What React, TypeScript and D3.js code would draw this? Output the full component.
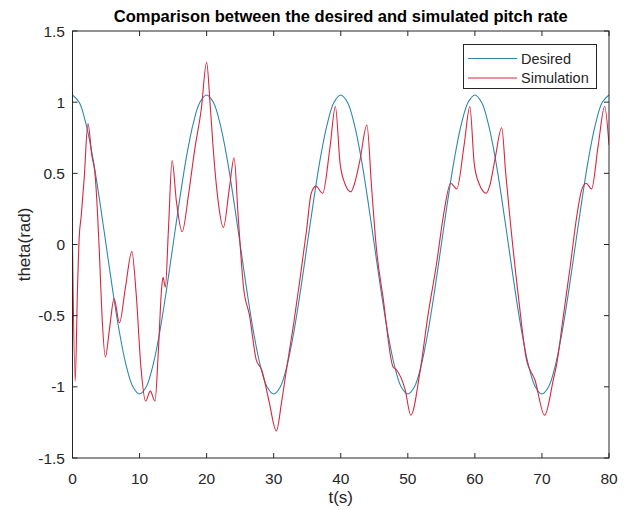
import React from 'react';
import * as d3 from 'd3';

// desired pitch (rad), sampled every 1 s
const desiredTime = d3.range(0, 81);
const desiredValue = [
  1.05, 0.999, 0.849, 0.617, 0.324, 0, -0.324, -0.617, -0.849, -0.999,
  -1.05, -0.999, -0.849, -0.617, -0.324, 0, 0.324, 0.617, 0.849, 0.999,
  1.05, 0.999, 0.849, 0.617, 0.324, 0, -0.324, -0.617, -0.849, -0.999,
  -1.05, -0.999, -0.849, -0.617, -0.324, 0, 0.324, 0.617, 0.849, 0.999,
  1.05, 0.999, 0.849, 0.617, 0.324, 0, -0.324, -0.617, -0.849, -0.999,
  -1.05, -0.999, -0.849, -0.617, -0.324, 0, 0.324, 0.617, 0.849, 0.999,
  1.05, 0.999, 0.849, 0.617, 0.324, 0, -0.324, -0.617, -0.849, -0.999,
  -1.05, -0.999, -0.849, -0.617, -0.324, 0, 0.324, 0.617, 0.849, 0.999,
  1.05,
];

// simulated response
const simTime = [
  0, 0.4, 0.75, 1.0, 1.3, 1.75, 2.3, 2.9, 3.35, 3.7, 4.0, 4.4, 4.9, 5.5, 6.2,
  7.0, 7.9, 8.85, 9.5, 10.2, 10.9, 11.6, 12.3, 12.8, 13.3, 13.5, 13.85, 14.3,
  14.85, 15.5, 16.35, 17.3, 18.2, 19.2, 20.0, 20.5, 21.0, 21.7, 22.5, 23.4,
  24.1, 24.7, 25.5, 26.4, 27.4, 28.2, 29.3, 30.4, 31.2, 31.9, 33.0, 33.9,
  34.9, 35.6, 36.3, 37.3, 38.4, 39.2, 39.9, 40.6, 41.5, 42.0, 42.85, 43.9,
  44.6, 45.3, 46.3, 47.8, 48.3, 49.6, 50.45, 51.8, 53.0, 54.3, 55.3, 56.4,
  57.3, 58.4, 59.25, 59.9, 60.6, 61.7, 62.2, 63.0, 64.0, 64.6, 65.2, 66.5,
  67.7, 68.95, 70.4, 71.7, 72.2, 73.2, 74.2, 75.2, 75.9, 76.6, 77.4, 78.4,
  79.35, 80,
];
const simValue = [
  0, -0.96, -0.3, 0.05, 0.2, 0.47, 0.85, 0.62, 0.5, 0.25, -0.05, -0.5, -0.79,
  -0.6, -0.38, -0.55, -0.3, -0.05, -0.35, -0.86, -1.1, -1.03, -1.1, -0.75,
  -0.3, -0.23, -0.3, 0.1, 0.59, 0.3, 0.09, 0.35, 0.66, 0.95, 1.28, 1.0, 0.66,
  0.31, 0.12, 0.4, 0.61, 0.2, -0.3, -0.5, -0.81, -0.88, -1.1, -1.31, -1.1,
  -0.88, -0.55, -0.25, 0.1, 0.36, 0.41, 0.36, 0.685, 0.97, 0.57, 0.43, 0.37,
  0.42, 0.59, 0.84, 0.4, -0.02, -0.37, -0.86, -0.88, -1.02, -1.2, -0.9, -0.5,
  -0.13, 0.2, 0.43, 0.39, 0.7, 0.97, 0.57, 0.43, 0.36, 0.41, 0.6, 0.82, 0.5,
  0.2, -0.37, -0.81, -0.95, -1.2, -0.95, -0.84, -0.5, -0.16, 0.2, 0.38, 0.43,
  0.39, 0.7, 0.97, 0.7,
];

const xTicks = [0, 10, 20, 30, 40, 50, 60, 70, 80];
const yTicks = [-1.5, -1, -0.5, 0, 0.5, 1, 1.5];

const seriesNames = ['Desired', 'Simulation'];
const seriesColors = ['#2e87ad', '#d8263d'];

export default function App() {
  const width = 627;
  const height = 510;
  const left = 72.5, right = 609, top = 31, bottom = 458;
  const axisColor = '#262626';
  const font = '"Liberation Sans", Arial, sans-serif';

  const x = d3.scaleLinear().domain([0, 80]).range([left, right]);
  const y = d3.scaleLinear().domain([-1.5, 1.5]).range([bottom, top]);

  const desiredLine = d3.line<number>()
    .x((_, i) => x(desiredTime[i]))
    .y(d => y(d))
    .curve(d3.curveCatmullRom);
  const simLine = d3.line<number>()
    .x((_, i) => x(simTime[i]))
    .y(d => y(d))
    .curve(d3.curveMonotoneX);

  const tickLen = 5;

  return (
    <svg width={width} height={height} style={{ position: 'absolute', left: 0, top: 0, background: '#fff' }}>
      <defs>
        <clipPath id="plot-clip">
          <rect x={left} y={top} width={right - left} height={bottom - top} />
        </clipPath>
      </defs>

      <g clipPath="url(#plot-clip)" fill="none" strokeWidth={1.1}>
        <path d={desiredLine(desiredValue) || ''} stroke={seriesColors[0]} />
        <path d={simLine(simValue) || ''} stroke={seriesColors[1]} />
      </g>

      {/* box and ticks */}
      <rect x={left} y={top} width={right - left} height={bottom - top}
        fill="none" stroke={axisColor} strokeWidth={1} />
      {xTicks.map(t => (
        <g key={'x' + t}>
          <line x1={x(t)} x2={x(t)} y1={bottom} y2={bottom - tickLen} stroke={axisColor} />
          <line x1={x(t)} x2={x(t)} y1={top} y2={top + tickLen} stroke={axisColor} />
          <text x={x(t)} y={484} textAnchor="middle" fontFamily={font} fontSize={15.5} fill={axisColor}>{String(t)}</text>
        </g>
      ))}
      {yTicks.map(t => (
        <g key={'y' + t}>
          <line x1={left} x2={left + tickLen} y1={y(t)} y2={y(t)} stroke={axisColor} />
          <line x1={right} x2={right - tickLen} y1={y(t)} y2={y(t)} stroke={axisColor} />
          <text x={65} y={y(t) + 5.5} textAnchor="end" fontFamily={font} fontSize={15.5} fill={axisColor}>{String(t)}</text>
        </g>
      ))}

      <text x={(left + right) / 2} y={22} textAnchor="middle" fontFamily={font} fontSize={16.5}
        fontWeight="bold" fill="#000">Comparison between the desired and simulated pitch rate</text>
      <text x={(left + right) / 2} y={503} textAnchor="middle" fontFamily={font} fontSize={17} fill={axisColor}>t(s)</text>
      <text transform={`translate(30,${(top + bottom) / 2}) rotate(-90)`} textAnchor="middle"
        fontFamily={font} fontSize={17} fill={axisColor}>theta(rad)</text>

      {/* legend */}
      <g>
        <rect x={463.5} y={44.5} width={133} height={44} fill="#fff" stroke={axisColor} strokeWidth={1} />
        {seriesNames.map((name, i) => (
          <g key={name}>
            <line x1={468} x2={517} y1={58.5 + i * 19.5} y2={58.5 + i * 19.5} stroke={seriesColors[i]} strokeWidth={1.1} />
            <text x={521} y={63.5 + i * 19.5} fontFamily={font} fontSize={14.5} fill={axisColor}>{name}</text>
          </g>
        ))}
      </g>
    </svg>
  );
}
